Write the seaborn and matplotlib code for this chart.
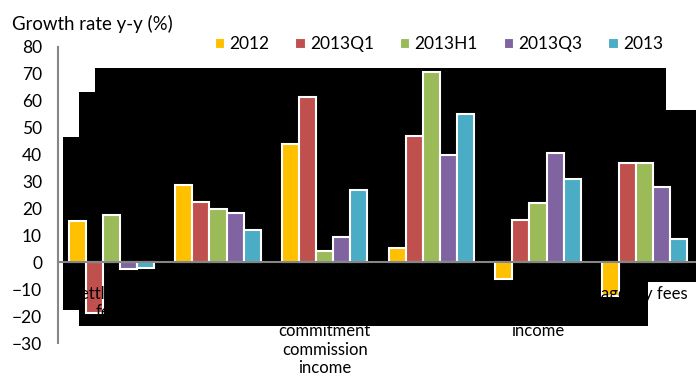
import numpy as np
import pandas as pd
import matplotlib
matplotlib.use("Agg")
import matplotlib.pyplot as plt
from matplotlib.patches import Polygon, Patch
import seaborn as sns

# ---------- data ---------- #
categories = ["Settlement\nfees", "", "\n\ncommitment\ncommission\nincome",
              "", "\n\nincome", "agency fees"]
periods = ["2012", "2013Q1", "2013H1", "2013Q3", "2013"]
colors = ["#FFC000", "#C0504D", "#9BBB59", "#8064A2", "#4BACC6"]

v2012 = [15.3, 28.7, 44.0, 5.1, -6.3, -12.6]
v2013Q1 = [-18.7, 22.4, 61.1, 46.8, 15.8, 36.6]
v2013H1 = [17.4, 19.8, 4.1, 70.5, 22.0, 36.6]
v2013Q3 = [-2.7, 18.4, 9.4, 39.7, 40.6, 27.9]
v2013 = [-2.3, 11.9, 26.7, 54.9, 30.7, 8.4]

yticks = list(range(-30, 90, 10))

series = [v2012, v2013Q1, v2013H1, v2013Q3, v2013]
rows = []
for p, vals in zip(periods, series):
    for i, v in enumerate(vals):
        rows.append({"cat": i, "period": p, "value": v})
df = pd.DataFrame(rows)

# ---------- plot ---------- #
sns.set_style("white")
plt.rcParams['font.family'] = ['Lato', 'DejaVu Sans']
plt.rcParams['text.color'] = 'black'
plt.rcParams['xtick.labelcolor'] = 'black'
plt.rcParams['ytick.labelcolor'] = 'black'

W, H = 696, 378
fig = plt.figure(figsize=(W / 100, H / 100), dpi=100)
ax_l, ax_r, ax_t, ax_b = 58, 698, 46.5, 343
ax = fig.add_axes([ax_l / W, 1 - ax_b / H, (ax_r - ax_l) / W, (ax_b - ax_t) / H])

sns.barplot(data=df, x="cat", y="value", hue="period", hue_order=periods,
            palette=colors, saturation=1, edgecolor="white", linewidth=1.5, width=0.8,
            legend=False, ax=ax, zorder=1)

# the black blocks sitting behind the bars
px = [(63, 137), (79, 137), (79, 92), (95, 92), (95, 68), (666, 68), (666, 110),
      (696, 110), (696, 282), (648, 282), (648, 326), (79, 326), (79, 310), (63, 310)]
poly = Polygon([(x / W, 1 - y / H) for x, y in px], closed=True, facecolor="black",
               edgecolor="none", transform=fig.transFigure, clip_on=False, zorder=0.5)
ax.add_patch(poly)

grey = "#868686"
ax.set_axisbelow(False)
ax.set_xlim(-0.5, 5.5)
ax.set_ylim(-30, 80)
ax.set_yticks(yticks)
ax.set_xticks(range(len(categories)))
ax.set_xticklabels(categories)
ax.set_xticks([0.5, 1.5, 2.5, 3.5, 4.5], minor=True)
ax.tick_params(axis="x", which="major", length=0, pad=17, labelsize=12, labelcolor="black")
ax.tick_params(axis="x", which="minor", length=4, width=1.5, color=grey, direction="out")
ax.tick_params(axis="y", length=4.5, width=1.5, color=grey, direction="out",
               labelsize=12.5, pad=7, labelcolor="black")
for t in ax.get_xticklabels():
    t.set_linespacing(1.45)
ax.set_xlabel("")
ax.set_ylabel("")

for s in ["top", "right"]:
    ax.spines[s].set_visible(False)
ax.spines["bottom"].set_position(("data", 0))
ax.spines["bottom"].set_color(grey)
ax.spines["bottom"].set_linewidth(1.5)
ax.spines["bottom"].set_zorder(3)
ax.spines["left"].set_color(grey)
ax.spines["left"].set_linewidth(1.5)

fig.text(12 / W, 1 - 30 / H, "Growth rate y-y (%)", fontsize=13.4, ha="left", va="baseline")

handles = [Patch(facecolor=c, edgecolor="white", linewidth=0.8) for c in colors]
fig.legend(handles, periods, loc="center", bbox_to_anchor=(439 / W, 1 - 44 / H),
           ncol=5, frameon=False, fontsize=12.5, handlelength=0.55, handleheight=0.55,
           handletextpad=0.3, columnspacing=1.48)

fig.savefig("out.png", dpi=100)
